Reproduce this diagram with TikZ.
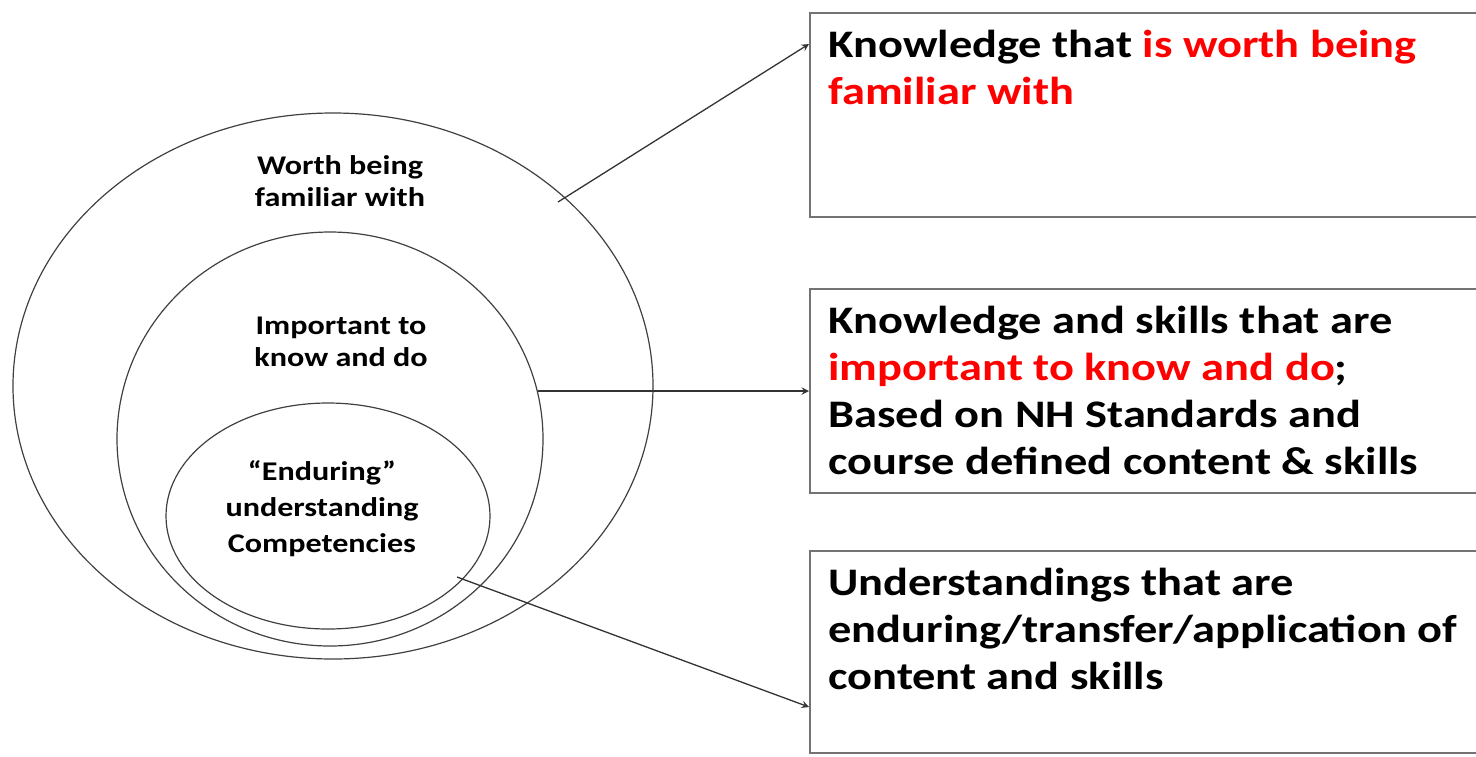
\documentclass[tikz,border=0pt]{standalone}
\usepackage{fontspec}
\setmainfont[FakeStretch=1.19]{Carlito}
\usepackage{xcolor}
\usepackage{tikz}
\usetikzlibrary{shapes,arrows,positioning,calc}

\begin{document}
\begin{tikzpicture}[
    x=0.5pt, y=-0.5pt,
    ring/.style={ellipse, draw=black!75, line width=0.6pt, inner sep=0pt},
    ringtext/.style={align=center, font=\fontsize{13.5}{16}\selectfont\bfseries, inner sep=0pt},
    box/.style={rectangle, draw=black!55, line width=0.9pt, anchor=north west, minimum width=400pt, inner sep=0pt},
    boxtext/.style={align=left, anchor=north west, inner sep=0pt, font=\fontsize{19.5}{23.4}\selectfont\bfseries},
    arrow/.style={->, >=stealth, draw=black!80, line width=0.65pt}
]
    \useasboundingbox (0,0) rectangle (1476,756);

    % nested circles
    \node[ring, minimum width=320pt, minimum height=273pt] (outer) at (333,386) {};
    \node[ring, minimum width=213pt, minimum height=207pt] (middle) at (330,439) {};
    \node[ring, minimum width=162pt, minimum height=113pt] (inner) at (328,516) {};

    \node[ringtext] (worth) at (340,181) {Worth being\\familiar with};
    \node[ringtext] (important) at (341,342) {Important to\\know and do};
    \node[ringtext, font=\fontsize{13.5}{18}\selectfont\bfseries] (enduring) at (322,509)
        {“Enduring”\\understanding\\Competencies};

    % boxes on the right
    \node[box, minimum height=102pt] (b1) at (809,12) {};
    \node[box, minimum height=102pt] (b2) at (809,288) {};
    \node[box, minimum height=101pt] (b3) at (809,550) {};

    \node[boxtext] (t1) at ([xshift=9.5pt,yshift=-9pt]b1.north west)
        {Knowledge that \textcolor{red}{is worth being}\\\textcolor{red}{familiar with}};
    \node[boxtext] (t2) at ([xshift=9.5pt,yshift=-9pt]b2.north west)
        {Knowledge and skills that are\\\textcolor{red}{important to know and do};\\Based on NH Standards and\\course defined content \& skills};
    \node[boxtext] (t3) at ([xshift=9.5pt,yshift=-9pt]b3.north west)
        {Understandings that are\\enduring/transfer/application of\\content and skills};

    % connectors
    \coordinate (s1) at (558,202);
    \coordinate (s3) at (457,577);
    \draw[arrow] (s1) -- ([yshift=-16pt]b1.north west);
    \draw[arrow] (middle.13) -- (middle.13 -| b2.west);
    \draw[arrow] (s3) -- ([yshift=-78.5pt]b3.north west);
\end{tikzpicture}
\end{document}
